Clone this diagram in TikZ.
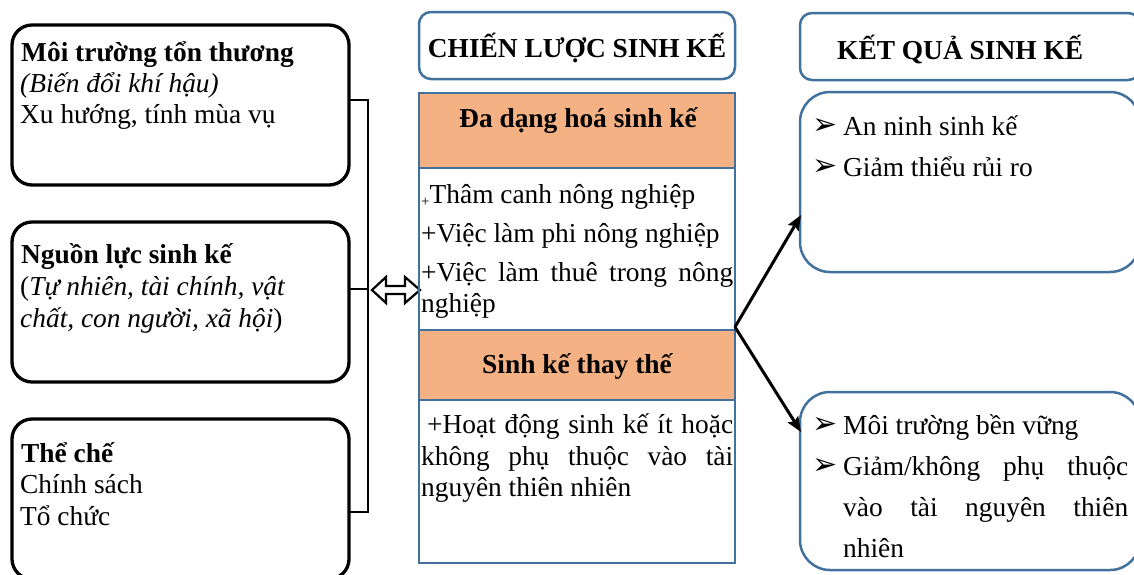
\documentclass[tikz,border=0pt]{standalone}
\usepackage{fontspec}
\setmainfont{Liberation Serif}
\newfontfamily\symfont{DejaVu Sans}
\usetikzlibrary{arrows.meta}
\definecolor{bblue}{RGB}{65,113,156}
\definecolor{orfill}{RGB}{244,177,131}
\begin{document}
\begin{tikzpicture}[x=1pt,y=-1pt,
  lbox/.style={draw=black, line width=3.3pt, rounded corners=20pt, inner sep=0pt, minimum width=337pt, minimum height=160pt},
  tbox/.style={draw=bblue, line width=2.5pt, rounded corners=12pt, inner sep=0pt, minimum height=67pt},
  rbox/.style={draw=bblue, line width=2.5pt, rounded corners=30pt, inner sep=0pt, minimum width=340pt},
  cell/.style={draw=bblue, line width=2.8pt, minimum width=316pt, inner sep=0pt},
  hcell/.style={cell, fill=orfill},
  txt/.style={anchor=base west, inner sep=0pt, font=\fontsize{27.4}{31}\selectfont},
  btxt/.style={txt, font=\fontsize{27.4}{31}\selectfont\bfseries},
  ctxt/.style={anchor=base, inner sep=0pt, font=\fontsize{27.4}{31}\selectfont\bfseries},
  bul/.style={anchor=base west, inner sep=0pt, font=\symfont\fontsize{30}{30}\selectfont},
  conn/.style={line width=1.5pt},
  flow/.style={line width=3pt, -{Stealth[length=15pt,width=12pt,inset=2.5pt]}}
]
\useasboundingbox (0,0) rectangle (1134,574);
\clip (0,0) rectangle (1134,574);

% left boxes
\node[lbox] (env) at (180.5,105) {};
\node[lbox] (res) at (180.5,302) {};
\node[lbox] (inst) at (180.5,499) {};

\node[btxt] (e1) at (21,61) {Môi trường tổn thương};
\node[txt] (e2) at (20,92) {\itshape (Biến đổi khí hậu)};
\node[txt] (e3) at (20,123) {Xu hướng, tính mùa vụ};

\node[btxt] (r1) at (21,263) {Nguồn lực sinh kế};
\node[txt] (r2) at (20,295) {(\textit{Tự nhiên, tài chính, vật}};
\node[txt] (r3) at (20,327) {\textit{chất, con người, xã hội})};

\node[btxt] (i1) at (21,462) {Thể chế};
\node[txt] (i2) at (20,493) {Chính sách};
\node[txt] (i3) at (20,525) {Tổ chức};

% bracket connector
\coordinate (b1) at (349,100);
\coordinate (j1) at (368,100);
\coordinate (b2) at (349,289);
\coordinate (j2) at (368,289);
\coordinate (b3) at (349,512);
\coordinate (j3) at (368,512);
\draw[conn] (b1) -- (j1) -- (j3) -- (b3);
\draw[conn] (b2) -- (j2);

% double arrow
\draw[line width=2.2pt, fill=white, line join=miter]
  (372,290) -- (386,277) -- (386,286) -- (405,286) -- (405,277) -- (420,290)
  -- (405,303) -- (405,294) -- (386,294) -- (386,303) -- cycle;

% middle column
\node[tbox, minimum width=316pt] (strat) at (577,45.5) {};
\node[ctxt] (stratT) at (577,57) {CHIẾN LƯỢC SINH KẾ};

\node[hcell, minimum height=75pt] (h1) at (577,130.5) {};
\node[cell, minimum height=162pt] (c1) at (577,249) {};
\node[hcell, minimum height=70pt] (h2) at (577,365) {};
\node[cell, minimum height=163pt] (c2) at (577,481.5) {};

\node[ctxt] (h1T) at (578,127) {Đa dạng hoá sinh kế};
\node[ctxt] (h2T) at (577,373) {Sinh kế thay thế};

\node[txt] (m1) at (421,203) {\raisebox{-3pt}{\fontsize{15}{15}\selectfont+}Thâm canh nông nghiệp};
\node[txt] (m2) at (421,242) {+Việc làm phi nông nghiệp};
\node[txt] (m3) at (421,281) {\makebox[312pt][s]{+Việc làm thuê trong nông}};
\node[txt] (m4) at (421,312) {nghiệp};

\node[txt] (n1) at (427,433) {\makebox[306pt][s]{+Hoạt động sinh kế ít hoặc}};
\node[txt] (n2) at (421,465) {\makebox[312pt][s]{không phụ thuộc vào tài}};
\node[txt] (n3) at (421,496) {nguyên thiên nhiên};

% right column
\node[tbox, minimum width=340pt] (outc) at (970,46.5) {};
\node[btxt] (outcT) at (837,59) {KẾT QUẢ SINH KẾ};

\node[rbox, minimum height=180pt] (o1) at (970,182) {};
\node[rbox, minimum height=178pt] (o2) at (970,481) {};

\node[bul] (u1) at (812,134) {➢};
\node[txt] (o1a) at (843,135) {An ninh sinh kế};
\node[bul] (u2) at (812,175) {➢};
\node[txt] (o1b) at (843,176) {Giảm thiểu rủi ro};

\node[bul] (u3) at (812,433) {➢};
\node[txt] (o2a) at (843,434) {Môi trường bền vững};
\node[bul] (u4) at (812,474) {➢};
\node[txt] (o2b) at (843,475) {\makebox[285pt][s]{Giảm/không phụ thuộc}};
\node[txt] (o2c) at (843,516) {\makebox[285pt][s]{vào tài nguyên thiên}};
\node[txt] (o2d) at (843,557) {nhiên};

% flow arrows
\coordinate (fork) at (735,327);
\coordinate (t1) at (801,215);
\coordinate (t2) at (801,432);
\draw[flow] (fork) -- (t1);
\draw[flow] (fork) -- (t2);
\end{tikzpicture}
\end{document}
